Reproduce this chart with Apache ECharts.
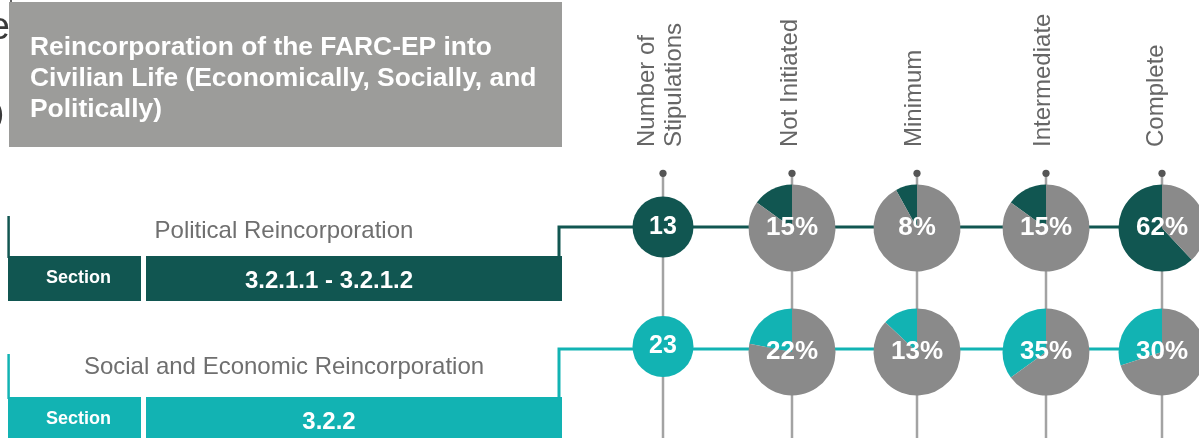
<!DOCTYPE html>
<html>
<head>
<meta charset="utf-8">
<script src="https://cdn.jsdelivr.net/npm/echarts@6/dist/echarts.min.js"></script>
<style>
html,body{margin:0;padding:0;background:#fff;}
#chart{width:1199px;height:438px;}
</style>
</head>
<body>
<div id="chart"></div>
<script>
// ---------- data ----------
const titleText = 'Reincorporation of the FARC-EP into\nCivilian Life (Economically, Socially, and\nPolitically)';
const columns = ['Number of\nStipulations', 'Not Initiated', 'Minimum', 'Intermediate', 'Complete'];
const rowNames = ['Political Reincorporation', 'Social and Economic Reincorporation'];
const sectionLabel = 'Section';
const sections = ['3.2.1.1 - 3.2.1.2', '3.2.2'];
const stipulations = [13, 23];
const notInitiated = [15, 22];
const minimum = [8, 13];
const intermediate = [15, 35];
const complete = [62, 30];

// ---------- layout / style ----------
const FONT = '"Liberation Sans", Arial, Helvetica, sans-serif';
const rowColors = ['#115651', '#12b3b3'];
const pieGray = '#8a8a8a';
const colX = [663, 792, 917, 1046, 1162];
const headerX = [661, 790.5, 914.5, 1043.5, 1156];
const rowLineY = [227, 349];
const pieY = [228, 352];
const countY = [227, 346.5];
const barTop = [256, 397];
const labelY = [231, 367];
const pieR = 43.5, countR = 30.5;

const chart = echarts.init(document.getElementById('chart'), null, {renderer: 'canvas'});

const graphics = [];
// cut-off glyphs at the far left
graphics.push({type: 'text', x: 10, y: 29, style: {text: 'e', font: '38px ' + FONT, fill: '#3a3a3a', align: 'right', verticalAlign: 'middle'}});
graphics.push({type: 'text', x: 4, y: 114.5, style: {text: ')', font: '30px ' + FONT, fill: '#3a3a3a', align: 'right', verticalAlign: 'middle'}});
graphics.push({type: 'line', shape: {x1: 11, y1: 0, x2: 11, y2: 2}, style: {stroke: '#333', lineWidth: 1.5}});
// title box
graphics.push({type: 'rect', shape: {x: 9, y: 2, width: 553, height: 145}, style: {fill: '#9c9c9a'}});
graphics.push({type: 'text', x: 30, y: 32.5, style: {text: titleText, font: 'bold 26.4px ' + FONT, fill: '#ffffff', lineHeight: 31, align: 'left', verticalAlign: 'top'}});

// column headers, vertical gray lines and dots
columns.forEach((c, i) => {
  graphics.push({type: 'line', shape: {x1: colX[i], y1: 173, x2: colX[i], y2: 440}, style: {stroke: '#a3a3a3', lineWidth: 2.5}});
  graphics.push({type: 'circle', shape: {cx: colX[i], cy: 173.3, r: 3.6}, style: {fill: '#555555'}});
  graphics.push({type: 'text', x: headerX[i], y: 147, rotation: Math.PI / 2,
    style: {text: c, font: '24px ' + FONT, fill: '#666666', align: 'left', verticalAlign: 'middle', lineHeight: 27}});
});

// rows: left rule, label, section bars, connector
rowNames.forEach((name, r) => {
  const col = rowColors[r];
  const top = barTop[r];
  graphics.push({type: 'line', shape: {x1: 8.6, y1: r === 0 ? 216 : 354, x2: 8.6, y2: top + 2}, style: {stroke: col, lineWidth: 2.5}});
  graphics.push({type: 'text', x: 284, y: labelY[r], style: {text: name, font: '24px ' + FONT, fill: '#6f6f6f', align: 'center', verticalAlign: 'middle'}});
  graphics.push({type: 'rect', shape: {x: 8, y: top, width: 133, height: 45}, style: {fill: col}});
  graphics.push({type: 'rect', shape: {x: 146, y: top, width: 416, height: 45}, style: {fill: col}});
  graphics.push({type: 'text', x: 78.5, y: top + 22.5, style: {text: sectionLabel, font: 'bold 18px ' + FONT, fill: '#ffffff', align: 'center', verticalAlign: 'middle'}});
  graphics.push({type: 'text', x: 329, y: top + 25, style: {text: sections[r], font: 'bold 24px ' + FONT, fill: '#ffffff', align: 'center', verticalAlign: 'middle'}});
  graphics.push({type: 'polyline', shape: {points: [[559, top + 1], [559, rowLineY[r]], [1205, rowLineY[r]]]}, style: {stroke: col, lineWidth: 3, fill: null}});
});

// ---------- series ----------
const series = [];
const labelStyle = {show: true, position: 'center', color: '#ffffff', fontFamily: FONT, fontWeight: 'bold', fontSize: 26};
rowNames.forEach((name, r) => {
  series.push({
    type: 'pie', silent: true, center: [colX[0], countY[r]], radius: countR,
    startAngle: 90, clockwise: false, avoidLabelOverlap: false,
    labelLine: {show: false},
    data: [{value: stipulations[r], name: 'Number of Stipulations', itemStyle: {color: rowColors[r]},
      label: Object.assign({}, labelStyle, {fontSize: 25, formatter: '{c}'})}]
  });
  [notInitiated, minimum, intermediate, complete].forEach((arr, k) => {
    const v = arr[r];
    series.push({
      type: 'pie', silent: true, center: [colX[k + 1], pieY[r]], radius: pieR,
      startAngle: 90, clockwise: false, avoidLabelOverlap: false,
      labelLine: {show: false}, label: {show: false},
      itemStyle: {borderWidth: 0},
      data: [
        {value: v, name: columns[k + 1], itemStyle: {color: rowColors[r]},
          label: Object.assign({}, labelStyle, {formatter: '{c}%'})},
        {value: 100 - v, name: 'rest', itemStyle: {color: pieGray}, label: {show: false}}
      ]
    });
  });
});

chart.setOption({
  animation: false,
  backgroundColor: '#ffffff',
  graphic: {elements: graphics},
  series: series
});
</script>
</body>
</html>
